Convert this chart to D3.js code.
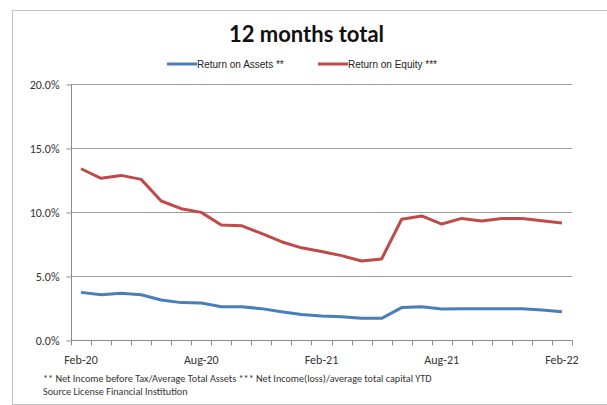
<!DOCTYPE html>
<html>
<head>
<meta charset="utf-8">
<script src="https://cdn.jsdelivr.net/npm/d3@7"></script>
<style>
  html, body { margin: 0; padding: 0; background: #fff; }
  svg { display: block; }
</style>
</head>
<body>
<svg id="chart" width="607" height="405"></svg>
<script>
// Monthly categories, Feb-20 .. Feb-22
const months = ["Feb-20","Mar-20","Apr-20","May-20","Jun-20","Jul-20","Aug-20","Sep-20","Oct-20","Nov-20","Dec-20","Jan-21",
                "Feb-21","Mar-21","Apr-21","May-21","Jun-21","Jul-21","Aug-21","Sep-21","Oct-21","Nov-21","Dec-21","Jan-22","Feb-22"];
// Return on Assets (%), 12 months total
const roa = [3.72,3.54,3.65,3.54,3.13,2.92,2.89,2.60,2.60,2.45,2.21,2.00,1.87,1.82,1.69,1.69,2.53,2.60,2.42,2.45,2.45,2.45,2.45,2.34,2.21];
// Return on Equity (%), 12 months total
const roe = [13.38,12.63,12.86,12.55,10.86,10.26,9.97,8.98,8.93,8.33,7.68,7.20,6.91,6.59,6.17,6.33,9.43,9.69,9.06,9.50,9.30,9.50,9.50,9.32,9.14];
const yTicks = [0, 5, 10, 15, 20];
const xLabels = ["Feb-20","Aug-20","Feb-21","Aug-21","Feb-22"];
const seriesNames = ["Return on Assets **", "Return on Equity ***"];
const footnotes = ["** Net Income before Tax/Average Total Assets *** Net Income(loss)/average total capital YTD",
                   "Source License Financial Institution"];

const colors = ["#4a7ebb", "#be4b48"];
const fontAxis = "Carlito, Lato, sans-serif";

const svg = d3.select("#chart");

// Chart frame
svg.append("rect")
  .attr("x", 12.5).attr("y", 10.5)
  .attr("width", 600).attr("height", 394)
  .attr("fill", "none").attr("stroke", "#c4c4c4").attr("stroke-width", 1);

const plotLeft = 71, plotRight = 572, plotTop = 84, plotBottom = 340;

const x = d3.scaleBand().domain(months).range([plotLeft, plotRight]).paddingInner(0).paddingOuter(0);
const y = d3.scaleLinear().domain([0, 20]).range([plotBottom, plotTop]);
const cx = d => x(d) + x.bandwidth() / 2;

// Horizontal gridlines
svg.append("g").selectAll("line")
  .data(yTicks.filter(t => t > 0))
  .join("line")
  .attr("x1", plotLeft).attr("x2", plotRight)
  .attr("y1", d => Math.round(y(d)) + 0.5).attr("y2", d => Math.round(y(d)) + 0.5)
  .attr("stroke", "#9a9a9a").attr("stroke-width", 1);

// Y axis
const yAxis = svg.append("g")
  .attr("transform", `translate(${plotLeft + 0.5},0.5)`)
  .call(d3.axisLeft(y).tickValues(yTicks).tickSize(5).tickPadding(7)
        .tickFormat(d => d3.format(".1f")(d) + "%"));
yAxis.select(".domain").attr("stroke", "#8a8a8a").attr("d", `M0,${plotTop}V${plotBottom}`);
yAxis.selectAll(".tick line").attr("stroke", "#8a8a8a");
yAxis.selectAll("text").attr("font-family", fontAxis).attr("font-size", 12).attr("fill", "#333");

// X axis: baseline, month tick marks at category edges, labels every six months
const xAxis = svg.append("g").attr("transform", `translate(0,${plotBottom + 0.5})`);
xAxis.append("line")
  .attr("x1", plotLeft).attr("x2", plotRight + 0.5)
  .attr("stroke", "#8a8a8a");
const edges = months.map(m => x(m)).concat([x(months[months.length - 1]) + x.bandwidth()]);
xAxis.selectAll("line.tk").data(edges).join("line")
  .attr("class", "tk")
  .attr("x1", d => Math.round(d) + 0.5).attr("x2", d => Math.round(d) + 0.5)
  .attr("y1", 0).attr("y2", 5)
  .attr("stroke", "#8a8a8a");
xAxis.selectAll("text").data(xLabels).join("text")
  .attr("x", d => cx(d)).attr("y", 23)
  .attr("text-anchor", "middle")
  .attr("font-family", fontAxis).attr("font-size", 12).attr("fill", "#333")
  .text(d => d);

// Series lines
const line = d3.line().x((d, i) => cx(months[i])).y(d => y(d));
[roa, roe].forEach((vals, k) => {
  svg.append("path")
    .datum(vals)
    .attr("d", line)
    .attr("fill", "none")
    .attr("stroke", colors[k])
    .attr("stroke-width", 3)
    .attr("stroke-linejoin", "round");
});

// Title
svg.append("text")
  .attr("x", 306.5).attr("y", 42)
  .attr("text-anchor", "middle")
  .attr("font-family", "Lato, sans-serif").attr("font-weight", "bold")
  .attr("font-size", 22).attr("fill", "#111")
  .text("12 months total");

// Legend
const legendX = [167, 318];
const lg = svg.append("g");
seriesNames.forEach((name, k) => {
  lg.append("line")
    .attr("x1", legendX[k]).attr("x2", legendX[k] + 30)
    .attr("y1", 64).attr("y2", 64)
    .attr("stroke", colors[k]).attr("stroke-width", 3);
  lg.append("text")
    .attr("x", legendX[k] + 30).attr("y", 67.5)
    .attr("font-family", "Liberation Sans, Arial, sans-serif").attr("font-size", 10)
    .attr("fill", "#222")
    .text(name);
});

// Footnotes
svg.selectAll("text.foot").data(footnotes).join("text")
  .attr("class", "foot")
  .attr("x", 43).attr("y", (d, i) => 382 + i * 13)
  .attr("font-family", fontAxis).attr("font-size", 10.2).attr("fill", "#333")
  .text(d => d);
</script>
</body>
</html>
